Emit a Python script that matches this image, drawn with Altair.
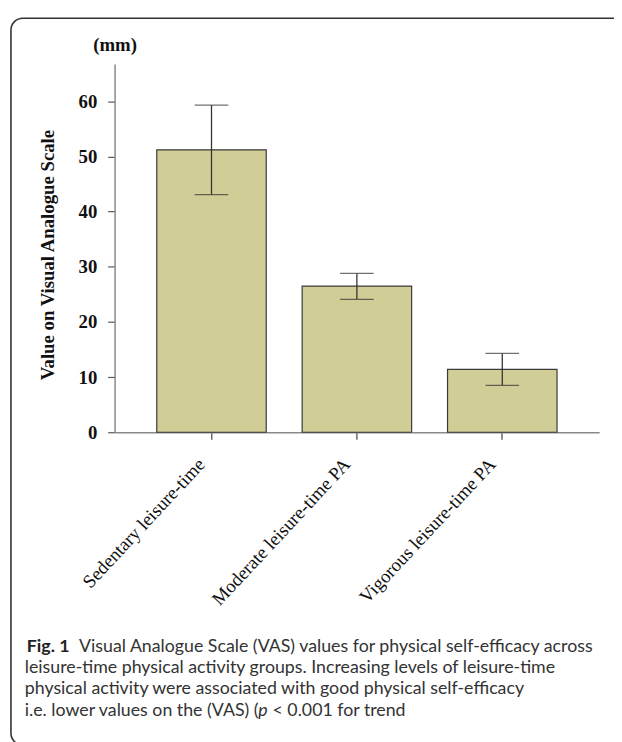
import altair as alt
import pandas as pd

categories = ["Sedentary leisure-time", "Moderate leisure-time PA", "Vigorous leisure-time PA"]
means = [51.2, 26.5, 11.4]
err_low = [43.1, 24.1, 8.5]
err_high = [59.3, 28.8, 14.3]
y_ticks = [0, 10, 20, 30, 40, 50, 60]

unit_label = "(mm)"
y_title = "Value on Visual Analogue Scale"
cap_bold = "Fig. 1"
cap_line1 = "Visual Analogue Scale (VAS) values for physical self-efficacy across"
cap_line2 = "leisure-time physical activity groups. Increasing levels of leisure-time"
cap_line3 = "physical activity were associated with good physical self-efficacy"
cap_line4a = "i.e. lower values on the (VAS) ("
cap_line4b = "p"
cap_line4c = "< 0.001 for trend"

df = pd.DataFrame({"group": categories, "mean": means, "low": err_low, "high": err_high})

SERIF = "Liberation Serif"
SANS = "Lato"
CAP_SIZE = 18

x_enc = alt.X(
    "group:N",
    sort=categories,
    scale=alt.Scale(paddingInner=0.247, paddingOuter=0.29),
    axis=alt.Axis(
        title=None,
        domainColor="#8a8a8a",
        domainWidth=1.5,
        tickColor="#444444",
        tickSize=7,
        tickWidth=1.2,
        labelAngle=-47,
        labelAlign="right",
        labelBaseline="middle",
        labelFont=SERIF,
        labelFontSize=19,
        labelColor="#111111",
        labelPadding=22,
        labelOffset=-10,
        labelLimit=0,
    ),
)
y_scale = alt.Scale(domain=[0, 66.75], nice=False, zero=True)
y_enc = alt.Y(
    "mean:Q",
    scale=y_scale,
    axis=alt.Axis(
        title=y_title,
        values=y_ticks,
        grid=False,
        domainColor="#8a8a8a",
        domainWidth=1.5,
        tickColor="#555555",
        tickSize=7,
        tickWidth=1.2,
        labelFont=SERIF,
        labelFontWeight="bold",
        labelFontSize=19,
        labelColor="#111111",
        labelPadding=11,
        titleFont=SERIF,
        titleFontWeight="bold",
        titleFontSize=19,
        titleColor="#111111",
        titleAngle=-90,
        titleAlign="center",
        titleBaseline="middle",
        titleX=-68,
        titleY=193,
    ),
)

bars = alt.Chart(df).mark_bar(color="#d1cd97", stroke="#3a3a3a", strokeWidth=1.2).encode(x=x_enc, y=y_enc)
rules = alt.Chart(df).mark_rule(color="#333333", strokeWidth=1.3).encode(
    x=alt.X("group:N", sort=categories), y="low:Q", y2="high:Q"
)
caps_hi = alt.Chart(df).mark_tick(color="#333333", thickness=1.3, size=34).encode(
    x=alt.X("group:N", sort=categories), y="high:Q"
)
caps_lo = alt.Chart(df).mark_tick(color="#333333", thickness=1.3, size=34).encode(
    x=alt.X("group:N", sort=categories), y="low:Q"
)

one = pd.DataFrame({"k": [0]})
border = alt.Chart(one).mark_rect(
    fillOpacity=0, stroke="#333333", strokeWidth=1.6, cornerRadius=12
).encode(x=alt.value(-105), x2=alt.value(530), y=alt.value(-46.5), y2=alt.value(690))


def txt(s, x, y, font, size, weight="normal", style="normal", color="#333333", align="left"):
    return alt.Chart(pd.DataFrame({"t": [s]})).mark_text(
        font=font, fontSize=size, fontWeight=weight, fontStyle=style, color=color,
        align=align, baseline="alphabetic",
    ).encode(text="t:N", x=alt.value(x), y=alt.value(y))


texts = [
    txt(unit_label, 0.5, -13, SERIF, 19, weight="bold", color="#111111", align="center"),
    txt(cap_bold, -89, 596, SANS, CAP_SIZE, weight="bold", color="#222222"),
    txt(cap_line1, -36, 596, SANS, CAP_SIZE),
    txt(cap_line2, -91, 617, SANS, CAP_SIZE),
    txt(cap_line3, -91, 638, SANS, CAP_SIZE),
    txt(cap_line4a, -91, 660, SANS, CAP_SIZE),
    txt(cap_line4b, 145.5, 660, SANS, CAP_SIZE, style="italic"),
    txt(cap_line4c, 160, 660, SANS, CAP_SIZE),
]

chart = alt.layer(border, bars, rules, caps_hi, caps_lo, *texts).properties(
    width=491,
    height=373,
    padding={"left": 108, "top": 52, "right": 15, "bottom": 309},
    autosize=alt.AutoSizeParams(type="none"),
).configure_view(stroke=None)

chart.save("out.html", embed_options={"renderer": "svg", "actions": False})
